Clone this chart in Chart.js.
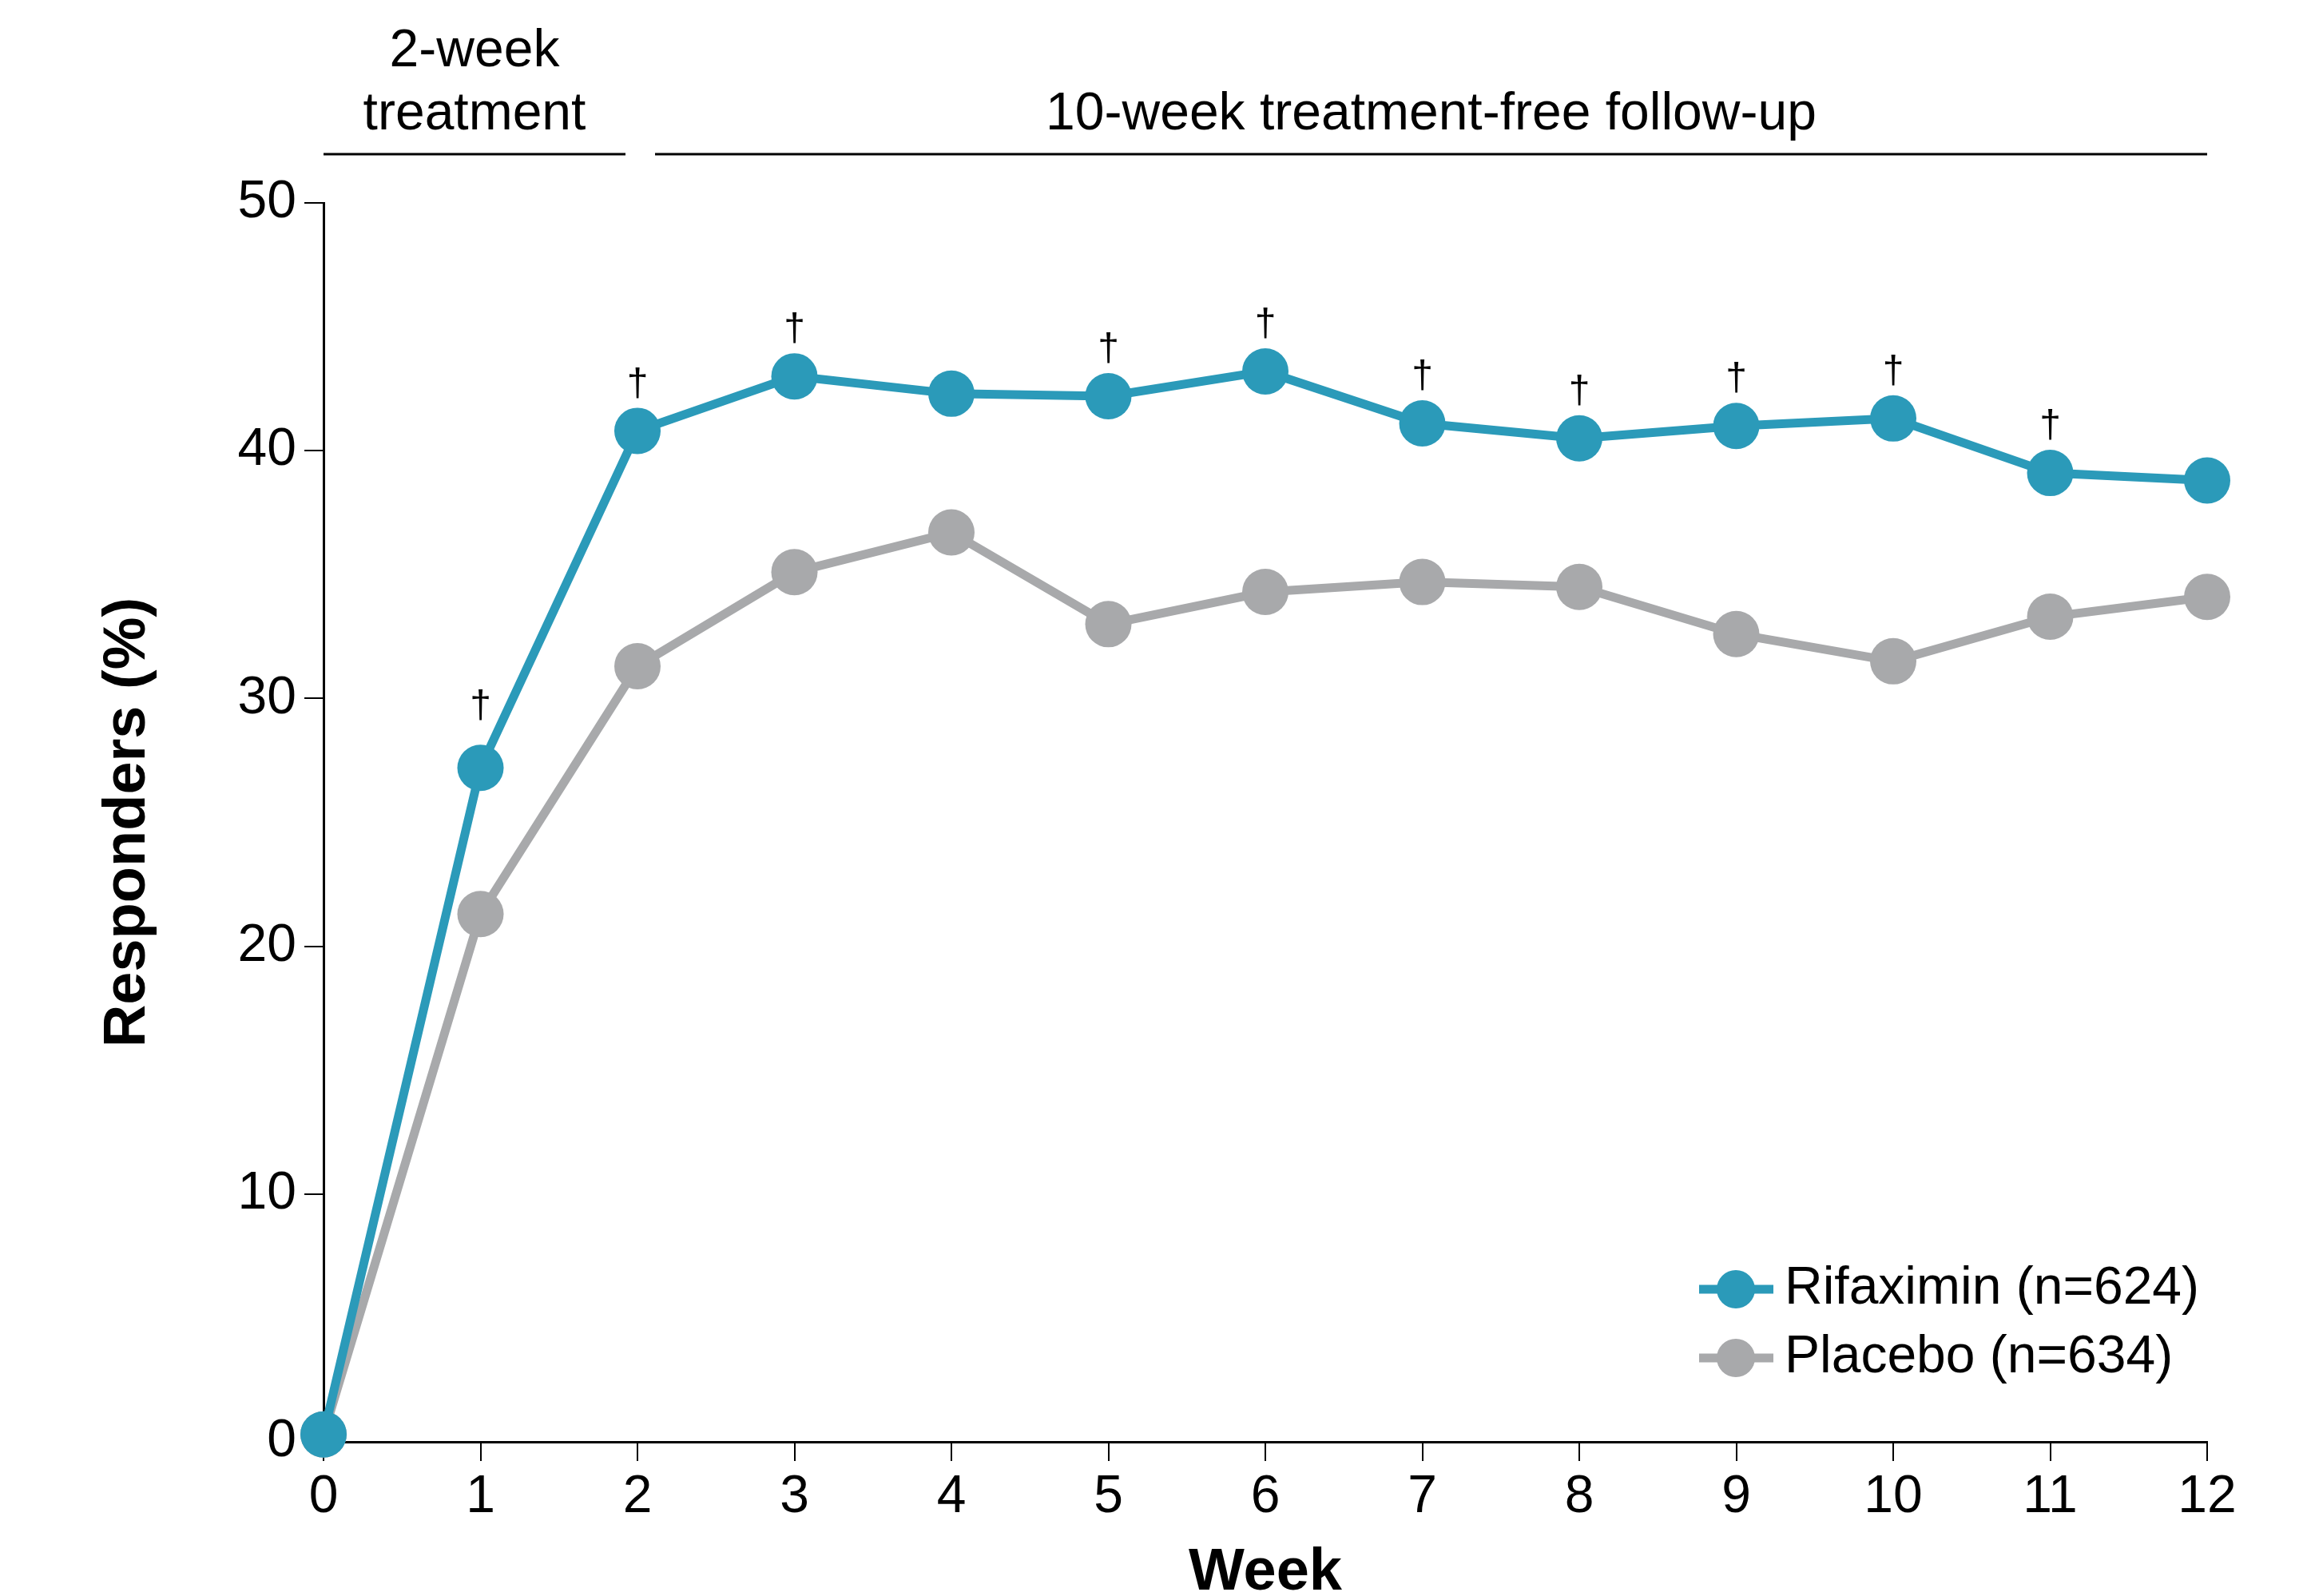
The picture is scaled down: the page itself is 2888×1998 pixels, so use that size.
<!DOCTYPE html>
<html>
<head>
<meta charset="utf-8">
<script src="https://cdn.jsdelivr.net/npm/chart.js@4.4.1/dist/chart.umd.min.js"></script>
<style>
  html, body { margin: 0; padding: 0; background: #fff; }
  #wrap { width: 2888px; height: 1998px; }
</style>
</head>
<body>
<div id="wrap"><canvas id="responders" width="2888" height="1998"></canvas></div>
<script>
// data (% responders by week)
const weeks = ["0", "1", "2", "3", "4", "5", "6", "7", "8", "9", "10", "11", "12"];
const rifaximin = [0.3, 27.2, 40.8, 43.0, 42.3, 42.2, 43.2, 41.1, 40.5, 41.0, 41.3, 39.1, 38.8];
const placebo = [0.3, 21.3, 31.3, 35.1, 36.7, 33.0, 34.3, 34.7, 34.5, 32.6, 31.5, 33.3, 34.1];
const seriesNames = ["Rifaximin (n=624)", "Placebo (n=634)"];
// weeks where rifaximin differs significantly (dagger)
const daggerWeeks = [1, 2, 3, 5, 6, 7, 8, 9, 10, 11];
const periodLabels = [["2-week", "treatment"], ["10-week treatment-free follow-up"]];
const periodWeeks = [[0, 2], [2, 12]];

const TEAL = "#2b9ab9";
const GREY = "#a8a9ab";
const FONT = "'Liberation Sans', Arial, Helvetica, sans-serif";

const daggers = {
  id: "daggers",
  afterDatasetsDraw(chart) {
    const ctx = chart.ctx;
    const meta = chart.getDatasetMeta(0);
    ctx.save();
    ctx.fillStyle = "#000";
    ctx.font = "48px " + FONT;
    ctx.textAlign = "center";
    ctx.textBaseline = "middle";
    daggerWeeks.forEach((w) => {
      const pt = meta.data[w];
      // steep segment at week 1, so the mark sits a bit higher there
      const lift = w === 1 ? 76 : 58;
      ctx.fillText("\u2020", pt.x, pt.y - lift);
    });
    ctx.restore();
  },
};

const periods = {
  id: "periods",
  afterDraw(chart) {
    const ctx = chart.ctx;
    const x = chart.scales.x;
    const lineY = 193;
    ctx.save();
    ctx.strokeStyle = "#000";
    ctx.lineWidth = 3;
    ctx.fillStyle = "#000";
    ctx.font = "66px " + FONT;
    ctx.textAlign = "center";
    ctx.textBaseline = "alphabetic";
    periodWeeks.forEach((p, i) => {
      let x0 = x.getPixelForValue(p[0]);
      let x1 = x.getPixelForValue(p[1]);
      if (i === 0) x1 -= 15;
      else x0 += 22;
      ctx.beginPath();
      ctx.moveTo(x0, lineY);
      ctx.lineTo(x1, lineY);
      ctx.stroke();
      const lines = periodLabels[i];
      const cx = (x0 + x1) / 2;
      lines.forEach((t, j) => {
        const y = 162 - (lines.length - 1 - j) * 79;
        ctx.fillText(t, cx, y);
      });
    });
    ctx.restore();
  },
};

const legendBox = {
  id: "legendBox",
  afterDraw(chart) {
    const ctx = chart.ctx;
    const area = chart.chartArea;
    const x0 = area.right - 636;
    ctx.save();
    ctx.font = "66px " + FONT;
    ctx.textBaseline = "middle";
    ctx.textAlign = "left";
    chart.data.datasets.forEach((ds, i) => {
      const y = 1614 + i * 86;
      ctx.strokeStyle = ds.borderColor;
      ctx.lineWidth = 11;
      ctx.beginPath();
      ctx.moveTo(x0, y);
      ctx.lineTo(x0 + 93, y);
      ctx.stroke();
      ctx.fillStyle = ds.backgroundColor;
      ctx.beginPath();
      ctx.arc(x0 + 46, y, 24, 0, Math.PI * 2);
      ctx.fill();
      ctx.fillStyle = "#000";
      ctx.fillText(ds.label, x0 + 107, y);
    });
    ctx.restore();
  },
};

new Chart(document.getElementById("responders"), {
  type: "line",
  data: {
    labels: weeks,
    datasets: [
      {
        label: seriesNames[0],
        data: rifaximin,
        borderColor: TEAL,
        backgroundColor: TEAL,
        borderWidth: 11,
        pointRadius: 29,
        pointBorderWidth: 0,
        pointBackgroundColor: TEAL,
        tension: 0,
        clip: false,
      },
      {
        label: seriesNames[1],
        data: placebo,
        borderColor: GREY,
        backgroundColor: GREY,
        borderWidth: 11,
        pointRadius: 29,
        pointBorderWidth: 0,
        pointBackgroundColor: GREY,
        tension: 0,
        clip: false,
      },
    ],
  },
  options: {
    responsive: false,
    animation: false,
    devicePixelRatio: 1,
    layout: { padding: { top: 254, right: 125, left: 0, bottom: 0 } },
    plugins: {
      legend: { display: false },
      tooltip: { enabled: false },
    },
    scales: {
      x: {
        type: "category",
        offset: false,
        afterFit(scale) {
          scale.height = 193;
        },
        border: { display: true, color: "#000", width: 3 },
        grid: {
          offset: false,
          drawOnChartArea: false,
          drawTicks: true,
          tickLength: 24,
          color: "#000",
          lineWidth: 2,
        },
        ticks: {
          color: "#000",
          font: { family: FONT, size: 66 },
          padding: 6,
          maxRotation: 0,
          autoSkip: false,
        },
        title: {
          display: true,
          text: "Week",
          color: "#000",
          font: { family: FONT, size: 74, weight: "bold", lineHeight: 1 },
          padding: { top: 0, bottom: -9 },
        },
      },
      y: {
        min: 0,
        max: 50,
        afterFit(scale) {
          scale.width = 405;
        },
        border: { display: true, color: "#000", width: 3 },
        grid: {
          drawOnChartArea: false,
          drawTicks: true,
          tickLength: 24,
          color: "#000",
          lineWidth: 2,
        },
        ticks: {
          stepSize: 10,
          color: "#000",
          font: { family: FONT, size: 66 },
          padding: 10,
        },
        title: {
          display: true,
          text: "Responders (%)",
          color: "#000",
          font: { family: FONT, size: 74, weight: "bold", lineHeight: 1 },
          padding: { top: 124, bottom: 0 },
        },
      },
    },
  },
  plugins: [daggers, periods, legendBox],
});
</script>
</body>
</html>
